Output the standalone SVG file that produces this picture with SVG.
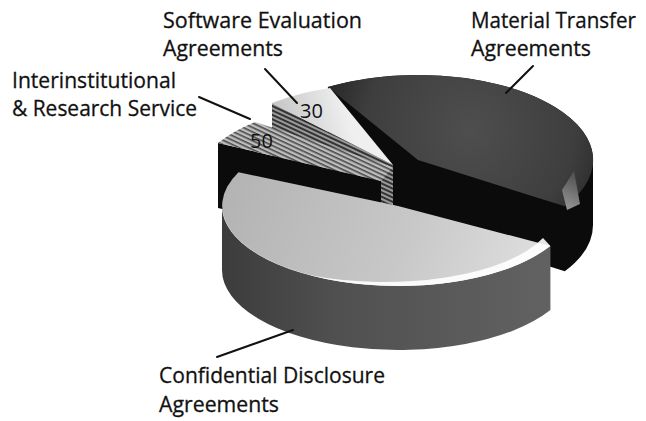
<svg xmlns="http://www.w3.org/2000/svg" width="646" height="421" viewBox="0 0 646 421">
<style>
.lbl{font-family:"Open Sans","Liberation Sans",sans-serif;font-size:22px;fill:#111;stroke:#111;stroke-width:0.3}
.num{font-family:"Open Sans","Liberation Sans",sans-serif;font-size:20px;fill:#111}
.leader{stroke:#111;stroke-width:2;fill:none;stroke-linecap:round}
.black{fill:#0b0b0b}
</style>
<defs>
<radialGradient id="gMat" cx="470" cy="130" r="150" gradientUnits="userSpaceOnUse">
<stop offset="0" stop-color="#4e4e4e"/><stop offset="0.7" stop-color="#3e3e3e"/><stop offset="1" stop-color="#262626"/>
</radialGradient>
<linearGradient id="gSoft" x1="272" y1="110" x2="340" y2="90" gradientUnits="userSpaceOnUse">
<stop offset="0" stop-color="#c4c4c4"/><stop offset="1" stop-color="#efefef"/>
</linearGradient>
<linearGradient id="gConfTop" x1="240" y1="175" x2="520" y2="280" gradientUnits="userSpaceOnUse">
<stop offset="0" stop-color="#b4b4b4"/><stop offset="0.6" stop-color="#c8c8c8"/><stop offset="1" stop-color="#dcdcdc"/>
</linearGradient>
<linearGradient id="gConfSide" x1="222" y1="0" x2="552" y2="0" gradientUnits="userSpaceOnUse">
<stop offset="0" stop-color="#3c3c3c"/><stop offset="0.35" stop-color="#505050"/><stop offset="1" stop-color="#626262"/>
</linearGradient>
<linearGradient id="gPatch" x1="562" y1="210" x2="580" y2="172" gradientUnits="userSpaceOnUse">
<stop offset="0" stop-color="#9a9a9a"/><stop offset="1" stop-color="#4a4a4a"/>
</linearGradient>
<pattern id="hatch" width="4" height="4" patternUnits="userSpaceOnUse" patternTransform="rotate(25)">
<rect width="4" height="4" fill="#bdbdbd"/><rect width="4" height="1.6" fill="#4a4a4a"/>
</pattern>
<pattern id="hatchDark" width="4" height="4" patternUnits="userSpaceOnUse" patternTransform="rotate(25)">
<rect width="4" height="4" fill="#9a9a9a"/><rect width="4" height="2" fill="#333"/>
</pattern>
</defs>

<g id="material-transfer">
<path class="black" d="M327.9,87.1 A175,85 0 0 1 593,160 L593,225 A175,85 0 0 1 564.8,271.3 L418,225 L327.9,152.1 Z"/>
<path fill="url(#gMat)" d="M418,160 L327.9,87.1 A175,85 0 0 1 564.8,206.3 Z"/>
<path fill="url(#gPatch)" d="M562,190 L574,171 L580,204 L567,210 Z"/>
<text class="lbl" x="471" y="28" textLength="165" lengthAdjust="spacingAndGlyphs">Material Transfer</text>
<text class="lbl" x="471" y="56" textLength="120" lengthAdjust="spacingAndGlyphs">Agreements</text>
</g>

<g id="software-evaluation">
<path fill="url(#hatchDark)" d="M272,103 L393,165 L393,230 L272,168 Z"/>
<path fill="url(#gSoft)" d="M393,165 L272,103 A175,85 0 0 1 330,88 Z"/>
<text class="num" x="300" y="118">30</text>
<text class="lbl" x="163" y="28" textLength="199" lengthAdjust="spacingAndGlyphs">Software Evaluation</text>
<text class="lbl" x="163" y="56" textLength="120" lengthAdjust="spacingAndGlyphs">Agreements</text>
</g>

<g id="interinstitutional">
<path class="black" d="M218,143 L381,181 L381,246 L218,208 Z"/>
<path fill="url(#hatchDark)" d="M381,181 L393,167 L393,232 L381,246 Z"/>
<path fill="url(#hatch)" d="M218,143 A175,85 0 0 1 255,122 L393,167 L381,181 Z"/>
<text class="num" x="250" y="148">50</text>
<text class="lbl" x="12" y="88" textLength="164" lengthAdjust="spacingAndGlyphs">Interinstitutional</text>
<text class="lbl" x="12" y="116" textLength="185" lengthAdjust="spacingAndGlyphs">&amp; Research Service</text>
</g>

<g id="confidential-disclosure">
<path fill="url(#gConfSide)" d="M550.4,246 A176,80 0 0 1 222,206 L222,270 A176,80 0 0 0 550.4,310 Z"/>
<path fill="url(#gConfTop)" d="M398,206 L550.4,246 A176,80 0 0 1 238.5,172.2 Z"/>
<path fill="#ffffff" fill-opacity="0.9" d="M550.4,246 A176,80 0 0 1 310,275.3 A170,68 0 0 0 543,238 Z"/>
<text class="lbl" x="159" y="383" textLength="226" lengthAdjust="spacingAndGlyphs">Confidential Disclosure</text>
<text class="lbl" x="159" y="412" textLength="120" lengthAdjust="spacingAndGlyphs">Agreements</text>
</g>

<g id="connectors">
<line class="leader" x1="533" y1="66" x2="506" y2="93"/>
<line class="leader" x1="265" y1="69" x2="297" y2="103"/>
<line class="leader" x1="199" y1="97" x2="250" y2="119"/>
<line class="leader" x1="217" y1="357" x2="293" y2="330"/>
</g>
</svg>
